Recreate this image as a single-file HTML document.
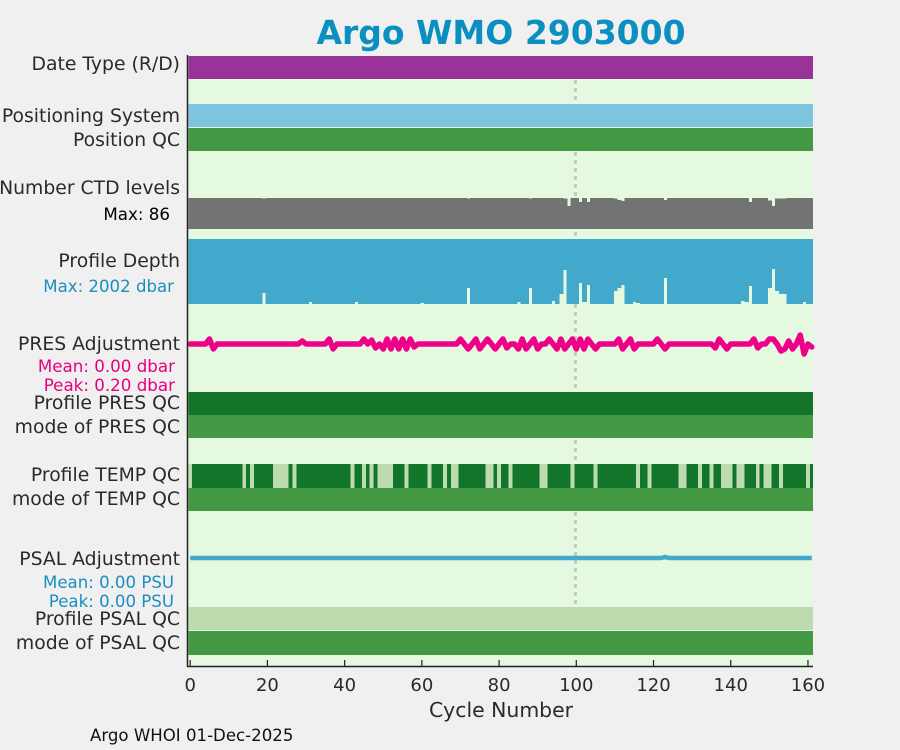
<!DOCTYPE html>
<html><head><meta charset="utf-8"><style>
body{margin:0;background:#f0f0f0;}
svg{display:block;font-family:"Liberation Sans","DejaVu Sans",sans-serif;}
</style></head><body>
<svg id="chart" width="900" height="750">
<rect x="0" y="0" width="900" height="750" fill="#f0f0f0"/>
<text x="501" y="44" text-anchor="middle" font-size="33" font-weight="bold" fill="#0a8fc0" font-family="DejaVu Sans, sans-serif">Argo WMO 2903000</text>
<rect x="188" y="55" width="625" height="611" fill="#e5f8e0"/>
<line x1="575.5" y1="56" x2="575.5" y2="606" stroke="#c8c8cc" stroke-width="3" stroke-dasharray="4,4"/>
<g id="marks" shape-rendering="crispEdges"></g>
<g id="lines"></g>
<line x1="187.5" y1="55" x2="187.5" y2="667" stroke="#222" stroke-width="1.5"/>
<line x1="187" y1="666.5" x2="813" y2="666.5" stroke="#222" stroke-width="1.5"/>
<g id="xticks"></g>
<g font-size="18.8" fill="#2a2a2a" text-anchor="end" font-family="DejaVu Sans, sans-serif">
<text x="180" y="70">Date Type (R/D)</text>
<text x="180" y="122">Positioning System</text>
<text x="180" y="146">Position QC</text>
<text x="180" y="194">Number CTD levels</text>
<text x="170" y="220" font-size="16.7" fill="#000">Max: 86</text>
<text x="180" y="267">Profile Depth</text>
<text x="174" y="292" font-size="16.6" fill="#1a8fc0">Max: 2002 dbar</text>
<text x="180" y="350">PRES Adjustment</text>
<text x="175" y="372" font-size="16.7" fill="#e8007f">Mean: 0.00 dbar</text>
<text x="175" y="391" font-size="16.7" fill="#e8007f">Peak: 0.20 dbar</text>
<text x="180" y="409">Profile PRES QC</text>
<text x="180" y="433">mode of PRES QC</text>
<text x="180" y="481">Profile TEMP QC</text>
<text x="180" y="505">mode of TEMP QC</text>
<text x="180" y="565">PSAL Adjustment</text>
<text x="174" y="588" font-size="16.6" fill="#1a8fc0">Mean: 0.00 PSU</text>
<text x="174" y="607" font-size="16.6" fill="#1a8fc0">Peak: 0.00 PSU</text>
<text x="180" y="625">Profile PSAL QC</text>
<text x="180" y="649">mode of PSAL QC</text>
</g>
<text x="501" y="717" text-anchor="middle" font-size="20.4" fill="#2a2a2a" font-family="DejaVu Sans, sans-serif">Cycle Number</text>
<text x="90" y="741" font-size="16.6" fill="#111" font-family="DejaVu Sans, sans-serif">Argo WHOI 01-Dec-2025</text>
</svg>
<script>
const xTickValues = [0,20,40,60,80,100,120,140,160];
const nCycles = 162;
const ctdMax = 86;
const ctdLowCycles = [19,72,88,97,98,101,103,110,111,112,123,145,150,151,152,153,154];
const ctdLowValues = [84,84,84,84,64,75,75,84,81,78,80,75,79,64,84,84,84];
const depthMax = 2002;
const depthLowCycles = [19,31,43,60,72,85,88,94,96,97,101,102,103,110,111,112,115,116,123,143,144,145,150,151,152,153,154,159];
const depthLowValues = [1662,1940,1940,1972,1510,1940,1510,1910,1694,955,1355,1940,1418,1602,1510,1418,1940,1972,1200,1910,1940,1448,1510,920,1602,1694,1694,1940];
const presCycles = [5,6,29,36,37,45,47,48,50,51,52,53,54,55,56,57,58,70,72,74,75,77,79,81,82,85,86,87,89,90,93,95,96,97,99,100,101,102,103,105,111,112,114,115,121,123,136,137,139,146,147,150,151,153,154,155,156,158,159,161];
const presValues = [0.1,-0.1,0.06,0.1,-0.1,0.1,0.08,-0.08,-0.1,0.1,-0.1,0.1,-0.1,0.1,-0.1,0.1,-0.06,0.1,-0.1,0.1,-0.1,0.1,-0.1,0.1,-0.08,-0.1,0.1,-0.1,0.1,-0.1,0.1,-0.1,0.1,-0.1,0.1,-0.1,0.1,-0.1,0.1,-0.1,0.1,-0.1,0.1,-0.1,0.1,-0.1,-0.08,0.1,-0.1,0.1,-0.08,0.1,0.1,-0.14,-0.1,0.06,-0.1,0.18,-0.2,-0.06];
const tempBadCycles = [0,14,16,22,23,24,25,27,42,45,47,49,50,51,52,56,62,66,68,69,77,78,80,83,91,92,99,105,116,119,127,128,132,135,138,139,140,142,143,147,149,150,153,160];
const psalCycles = [123];
const psalValues = [0.02];

const NS = 'http://www.w3.org/2000/svg';
const X = c => 190.2 + c * 3.861;
const W = 3.861;
const marks = document.getElementById('marks');
const lines = document.getElementById('lines');
function mk(tag, attrs, parent){
  const e = document.createElementNS(NS, tag);
  for (const k in attrs) e.setAttribute(k, attrs[k]);
  (parent||marks).appendChild(e);
  return e;
}
function band(y,h,color,name){
  const r = mk('rect',{x:X(-0.5),y:y,width:X(nCycles-0.5)-X(-0.5),height:h,fill:color});
  
  
}
band(56,23,'#993399','date-type-bar');
band(104,23,'#7ec4de','positioning-system-bar');
band(128,23,'#449944','position-qc-bar');
band(392,23,'#13752a','profile-pres-qc-bar');
band(415,23,'#449944','mode-pres-qc-bar');
band(488,23,'#449944','mode-temp-qc-bar');
band(607,23,'#bcdcb0','profile-psal-qc-bar');
band(631,24,'#449944','mode-psal-qc-bar');

for (let c=0;c<nCycles;c++){
  const i = ctdLowCycles.indexOf(c);
  const v = i>=0 ? ctdLowValues[i] : ctdMax;
  const h = 31 * v / ctdMax;
  const r = mk('rect',{x:X(c-0.5),y:229-h,width:W+0.8,height:h,fill:'#737373'});
  
  
}
for (let c=0;c<nCycles;c++){
  const i = depthLowCycles.indexOf(c);
  const v = i>=0 ? depthLowValues[i] : depthMax;
  const h = 65 * v / depthMax;
  const r = mk('rect',{x:X(c-0.5),y:239,width:W+0.8,height:h,fill:'#42a9cd'});
  
  
}
for (let c=0;c<nCycles;c++){
  const bad = tempBadCycles.indexOf(c)>=0;
  const r = mk('rect',{x:X(c-0.5),y:464,width:W+0.8,height:24,fill:bad?'#bcdcb0':'#13752a'});
  
  
}
// fix right edge overhang
const edge = mk('rect',{x:813,y:56,width:8,height:600,fill:'#f0f0f0'});



const presY = v => 344 - v*50;
let pts = [];
for (let c=0;c<nCycles;c++){
  const i = presCycles.indexOf(c);
  const v = i>=0 ? presValues[i] : 0;
  pts.push(X(c).toFixed(1)+','+presY(v).toFixed(1));
}
const pl = mk('polyline',{points:pts.join(' '),fill:'none',stroke:'#ee0088','stroke-width':5.5,'stroke-linejoin':'round','stroke-linecap':'round'},lines);


const psalY = v => 558 - v*50;
pts = [];
for (let c=0;c<nCycles;c++){
  const i = psalCycles.indexOf(c);
  const v = i>=0 ? psalValues[i] : 0;
  pts.push(X(c).toFixed(1)+','+psalY(v).toFixed(1));
}
const sl = mk('polyline',{points:pts.join(' '),fill:'none',stroke:'#42a9cd','stroke-width':4.5},lines);


const xt = document.getElementById('xticks');
xTickValues.forEach(v=>{
  const t = mk('line',{x1:X(v),y1:660,x2:X(v),y2:666,stroke:'#222','stroke-width':1.2},xt);
  
  
  const l = mk('text',{x:X(v),y:691,'text-anchor':'middle','font-size':18,fill:'#2a2a2a','font-family':'DejaVu Sans, sans-serif'},xt);
  l.textContent = v;
  
  
});
</script>
</body></html>
